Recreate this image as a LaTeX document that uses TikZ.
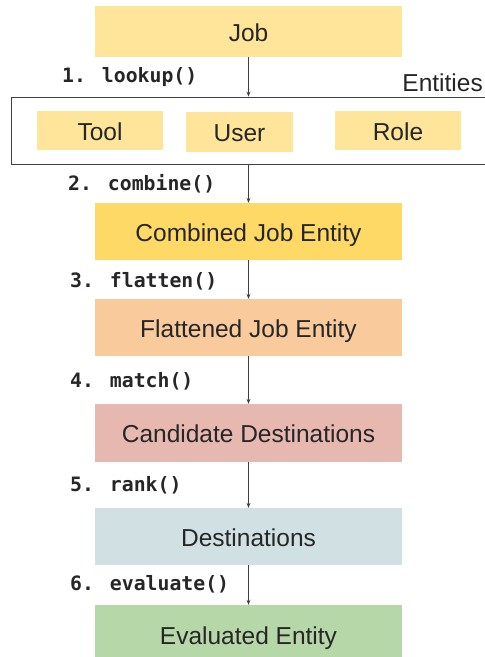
\documentclass[tikz,border=0pt]{standalone}
\usepackage{fontspec}
\setmainfont{Liberation Sans}
\newfontfamily\codefont{DejaVu Sans Mono}
\usetikzlibrary{arrows.meta}
\definecolor{jobc}{HTML}{FFE599}
\definecolor{combc}{HTML}{FFD966}
\definecolor{flatc}{HTML}{F9CB9C}
\definecolor{candc}{HTML}{E6B8AF}
\definecolor{destc}{HTML}{D0E0E3}
\definecolor{evalc}{HTML}{B6D7A8}
\definecolor{txtc}{HTML}{262626}
\definecolor{linec}{HTML}{404040}
\begin{document}
\begin{tikzpicture}[x=1pt,y=1pt,
  stagebox/.style={rectangle, minimum width=307pt, minimum height=57pt, inner sep=0pt, text height=19pt, text depth=0pt, text=txtc, font=\fontsize{24.5}{28}\selectfont},
  smallbox/.style={rectangle, fill=jobc, minimum height=39pt, inner sep=0pt, text height=19pt, text depth=0pt, text=txtc, font=\fontsize{24.5}{28}\selectfont},
  steplabel/.style={anchor=west, inner sep=0pt, text=txtc, font=\codefont\bfseries\fontsize{19.8}{22}\selectfont},
  conn/.style={draw=linec, line width=0.8pt, -{Stealth[length=5pt,width=4pt]}}]
\useasboundingbox (0,0) rectangle (485,-657);
\begin{scope}
\clip (0,0) rectangle (485,-657);
\node[stagebox, fill=jobc, minimum height=51pt] (job) at (248.5,-31.5) {Job};
\node[rectangle, draw=linec, line width=0.9pt, minimum width=476pt, minimum height=67pt, inner sep=0pt] (ent) at (249,-130.5) {};
\node[anchor=east, inner sep=0pt, text=txtc, font=\fontsize{24.5}{28}\selectfont] (entlbl) at (483,-83) {Entities};
\node[smallbox, minimum width=126pt] (tool) at (100,-130.5) {Tool};
\node[smallbox, minimum width=107pt, minimum height=40pt] (user) at (239.5,-132) {User};
\node[smallbox, minimum width=126pt] (role) at (398,-130.5) {Role};
\node[stagebox, fill=combc] (comb) at (248.5,-231.5) {Combined Job Entity};
\node[stagebox, fill=flatc] (flat) at (248.5,-327.5) {Flattened Job Entity};
\node[stagebox, fill=candc, minimum height=58pt] (cand) at (248.5,-433) {Candidate Destinations};
\node[stagebox, fill=destc] (dest) at (248.5,-536.5) {Destinations};
\node[stagebox, fill=evalc, minimum height=60pt] (eval) at (248.5,-635) {Evaluated Entity};
\node[steplabel] (l1) at (62,-77) {1. lookup()};
\node[steplabel] (l2) at (68,-184) {2. combine()};
\node[steplabel] (l3) at (70,-281) {3. flatten()};
\node[steplabel] (l4) at (70,-381) {4. match()};
\node[steplabel] (l5) at (70,-485) {5. rank()};
\node[steplabel] (l6) at (70,-584) {6. evaluate()};
\draw[conn] (job.south) -- (job.south |- ent.north);
\draw[conn] (job.south |- ent.south) -- (comb.north);
\draw[conn] (comb.south) -- (flat.north);
\draw[conn] (flat.south) -- (cand.north);
\draw[conn] (cand.south) -- (dest.north);
\draw[conn] (dest.south) -- (eval.north);
\end{scope}
\end{tikzpicture}
\end{document}
